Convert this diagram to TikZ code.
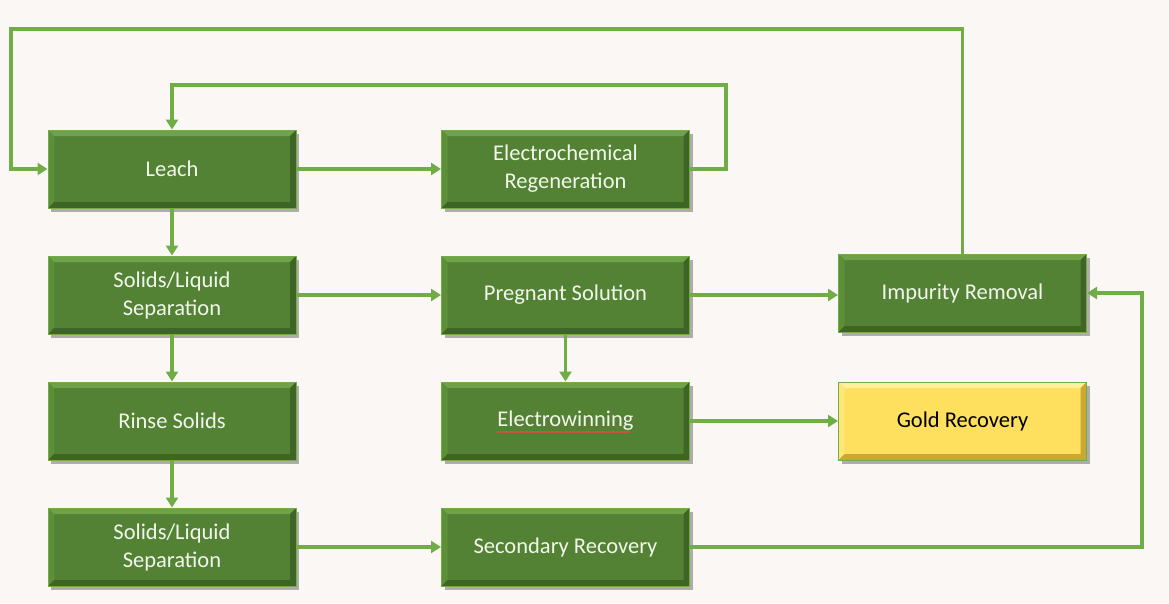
\documentclass[tikz,border=0pt]{standalone}
\usepackage{fontspec}
\setmainfont{Carlito}
\usetikzlibrary{arrows.meta,shadows,calc}
\definecolor{bg}{HTML}{FBF7F4}
\definecolor{boxg}{HTML}{548235}
\definecolor{boxlight}{HTML}{6FA249}
\definecolor{boxmid}{HTML}{5C8F38}
\definecolor{boxdark}{HTML}{3E6523}
\definecolor{lineg}{HTML}{70AD47}
\definecolor{goldf}{HTML}{FFDF5E}
\definecolor{goldlight}{HTML}{FFF09E}
\definecolor{goldmid}{HTML}{FFE777}
\definecolor{golddark}{HTML}{C9A933}
\definecolor{txtw}{HTML}{F2F7EC}
\definecolor{spell}{HTML}{C8553D}
\tikzset{
  bevel/.style n args={3}{path picture={
    \path (path picture bounding box.north west) coordinate (pnw)
          (path picture bounding box.south east) coordinate (pse);
    \fill[#1] (pnw) -- (pnw -| pse) -- ($(pnw -| pse)+(-6pt,-6pt)$) -- ($(pnw)+(6pt,-6pt)$) -- cycle;
    \fill[#2] (pnw) -- ($(pnw)+(6pt,-6pt)$) -- ($(pse -| pnw)+(6pt,6pt)$) -- (pse -| pnw) -- cycle;
    \fill[#3] (pse) -- (pse -| pnw) -- ($(pse -| pnw)+(6pt,6pt)$) -- ($(pse)+(-6pt,6pt)$) -- cycle;
    \fill[#3] (pse) -- (pse |- pnw) -- ($(pse |- pnw)+(-6pt,-6pt)$) -- ($(pse)+(-6pt,6pt)$) -- cycle;
  }},
  procbox/.style={rectangle, minimum width=248pt, minimum height=78pt, inner sep=0pt,
    align=center, font=\fontsize{22.5}{28}\selectfont,
    drop shadow={shadow xshift=3pt, shadow yshift=-4pt, fill=black, opacity=0.3}},
  greenbox/.style={procbox, fill=boxg, draw=lineg, line width=1pt, text=txtw,
    bevel={boxlight}{boxmid}{boxdark}},
  goldbox/.style={procbox, fill=goldf, draw=lineg, line width=1pt, text=black,
    bevel={goldlight}{goldmid}{golddark}},
  conn/.style={draw=lineg, line width=3.2pt, -{Triangle[length=10pt,width=12pt]}},
}
\begin{document}
\begin{tikzpicture}[x=1pt,y=-1pt]
\fill[bg] (0,0) rectangle (1169,603);
\useasboundingbox (0,0) rectangle (1169,603);

\node[greenbox] (leach) at (172,169) {Leach};
\node[greenbox] (ecr) at (565.5,169) {Electrochemical\\Regeneration};
\node[greenbox] (sls1) at (172,295) {Solids/Liquid\\Separation};
\node[greenbox] (preg) at (565.5,295) {Pregnant Solution};
\node[greenbox] (imp) at (962.5,293) {Impurity Removal};
\node[greenbox] (rinse) at (172,421) {Rinse Solids};
\node[greenbox] (ew) at (565.5,421) {Electrowinning};
\node[goldbox] (gold) at (962.5,421) {Gold Recovery};
\node[greenbox] (sls2) at (172,547) {Solids/Liquid\\Separation};
\node[greenbox] (sec) at (565.5,547) {Secondary Recovery};

\draw[spell, line width=1.3pt] ($(ew.center)+(-69,11)$) -- ($(ew.center)+(64,11)$);

\coordinate (otop) at (962.5,29);
\coordinate (oleft) at (11,29);
\coordinate (itop) at (726,85);
\coordinate (rbot) at (1142,547);

\draw[conn] (imp.north) -- (otop) -- (oleft) |- (leach.west);
\draw[conn] (ecr.east) -| (itop) -| (leach.north);
\draw[conn] (leach.east) -- (ecr.west);
\draw[conn] (leach.south) -- (sls1.north);
\draw[conn] (sls1.east) -- (preg.west);
\draw[conn] (preg.east) -- (imp.west |- preg.east);
\draw[conn] (preg.south) -- (ew.north);
\draw[conn] (sls1.south) -- (rinse.north);
\draw[conn] (rinse.south) -- (sls2.north);
\draw[conn] (sls2.east) -- (sec.west);
\draw[conn] (ew.east) -- (gold.west);
\draw[conn] (sec.east) -| (rbot) |- (imp.east);
\end{tikzpicture}
\end{document}
